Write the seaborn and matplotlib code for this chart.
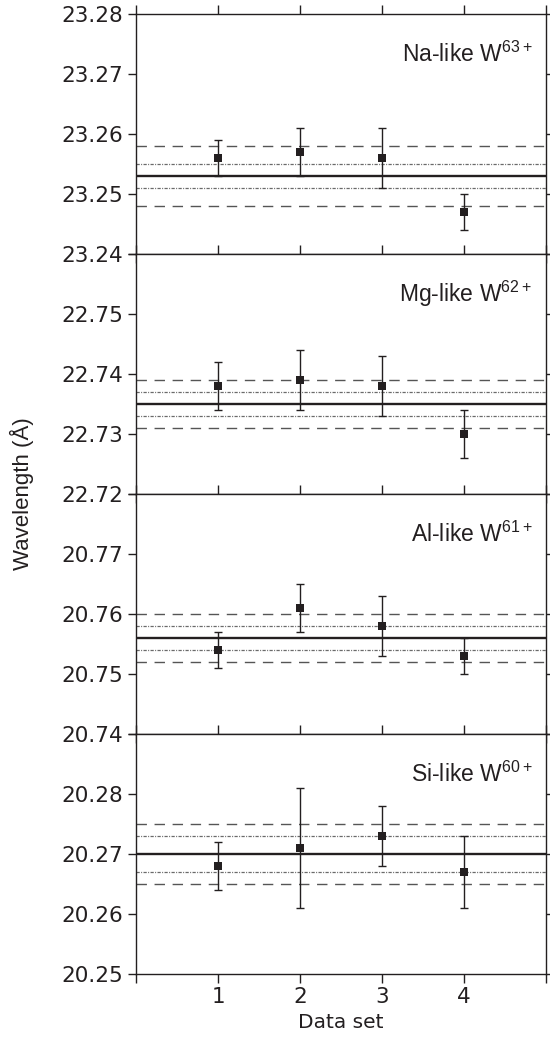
import numpy as np
import pandas as pd
import matplotlib
matplotlib.use("Agg")
import matplotlib.pyplot as plt
import seaborn as sns

# ---------------- data ----------------
ions = ["Na-like", "Mg-like", "Al-like", "Si-like"]
charges = ["63+", "62+", "61+", "60+"]
datasets = [1, 2, 3, 4]

na_vals = [23.256, 23.257, 23.256, 23.247]
na_errs = [0.003, 0.004, 0.005, 0.003]
mg_vals = [22.738, 22.739, 22.738, 22.730]
mg_errs = [0.004, 0.005, 0.005, 0.004]
al_vals = [20.754, 20.761, 20.758, 20.753]
al_errs = [0.003, 0.004, 0.005, 0.003]
si_vals = [20.268, 20.271, 20.273, 20.267]
si_errs = [0.004, 0.010, 0.005, 0.006]

means = [23.253, 22.735, 20.756, 20.270]
inner_band = [0.002, 0.002, 0.002, 0.003]   # dash-dot lines
outer_band = [0.005, 0.004, 0.004, 0.005]   # dashed lines

y_ranges = [(23.24, 23.28), (22.72, 22.76), (20.74, 20.78), (20.25, 20.29)]
y_ticks = [
    [23.24, 23.25, 23.26, 23.27, 23.28],
    [22.72, 22.73, 22.74, 22.75, 22.76],
    [20.74, 20.75, 20.76, 20.77, 20.78],
    [20.25, 20.26, 20.27, 20.28, 20.29],
]
x_ticks = [0, 1, 2, 3, 4, 5]
x_ticklabels = ["", "1", "2", "3", "4", ""]

all_vals = [na_vals, mg_vals, al_vals, si_vals]
all_errs = [na_errs, mg_errs, al_errs, si_errs]

# ---------------- style ----------------
sns.set_theme(style="ticks")
plt.rcParams["font.family"] = ["DejaVu Sans"]
plt.rcParams["mathtext.default"] = "regular"
plt.rcParams["axes.linewidth"] = 1.0
plt.rcParams["axes.edgecolor"] = "#231f20"

W, H = 550, 1038
fig = plt.figure(figsize=(W / 100, H / 100), dpi=100)

left = 136 / W
right = 546 / W
top_px = 14
panel_h = 240

ink = "#231f20"

for i in range(4):
    y0 = 1 - (top_px + (i + 1) * panel_h) / H
    ax = fig.add_axes([left, y0, right - left, panel_h / H])
    df = pd.DataFrame({"set": datasets, "wl": all_vals[i], "err": all_errs[i]})

    m = means[i]
    ax.axhline(m, color=ink, lw=1.7, zorder=2)
    for s in (+1, -1):
        ax.axhline(m + s * inner_band[i], color="#6a6a6a", lw=0.9,
                   ls=(0, (2.6, 1.1, 0.8, 1.1)), zorder=1)
        ax.axhline(m + s * outer_band[i], color="#555555", lw=1.0,
                   ls=(0, (7.5, 5.5)), zorder=1)

    ax.errorbar(df["set"], df["wl"], yerr=df["err"], fmt="none",
                ecolor=ink, elinewidth=1.0, capsize=3, capthick=1.0, zorder=3)
    sns.scatterplot(data=df, x="set", y="wl", marker="s", s=34, color=ink,
                    edgecolor="none", linewidth=0, ax=ax, zorder=4, legend=False)

    ax.set_xlim(0, 5)
    ax.set_ylim(*y_ranges[i])
    ax.set_xticks(x_ticks)
    ax.set_yticks(y_ticks[i])
    labels = ["%.2f" % v for v in y_ticks[i]]
    if i > 0:
        labels[-1] = ""
    ax.set_yticklabels(labels)
    ax.set_ylabel("")
    ax.set_xlabel("")

    ax.tick_params(axis="y", which="both", direction="out", length=6,
                   width=1.0, color=ink, left=True, right=True,
                   labelleft=True, labelright=False, labelsize=15.5,
                   labelcolor=ink, pad=3)
    ax.tick_params(axis="x", which="both", direction="out", length=6.5,
                   width=1.0, color=ink, top=True, bottom=True,
                   labeltop=False, labelbottom=(i == 3), labelsize=15.5,
                   labelcolor=ink, pad=3)
    if i == 3:
        ax.set_xticklabels(x_ticklabels)
        ax.set_xlabel("Data set", fontsize=14.5, color=ink, labelpad=4)
    else:
        ax.set_xticklabels([])

    for sp in ax.spines.values():
        sp.set_visible(True)
        sp.set_color(ink)

    ax.text(0.967, 0.80, f"{ions[i]} W$^{{{charges[i]}}}$",
            transform=ax.transAxes, ha="right", va="baseline",
            fontsize=16.5, family=["Liberation Sans"], color=ink)

fig.text(22 / W, 1 - 494 / H, "Wavelength (Å)", rotation=90,
         ha="center", va="center", fontsize=16, family=["Liberation Sans"],
         color=ink)

fig.savefig("out.png", dpi=100)
